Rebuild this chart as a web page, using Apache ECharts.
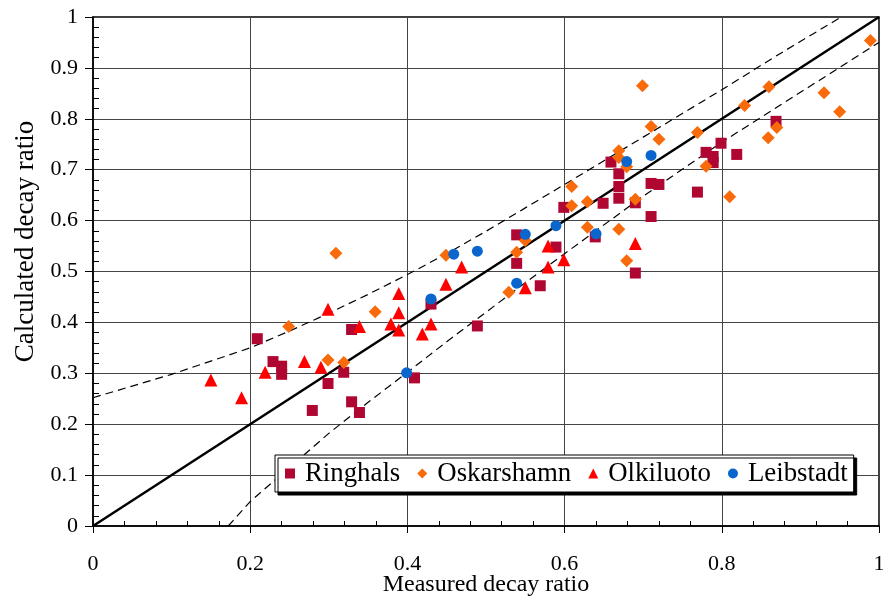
<!DOCTYPE html>
<html><head><meta charset="utf-8">
<script src="https://cdn.jsdelivr.net/npm/echarts@6/dist/echarts.min.js"></script>
<style>html,body{margin:0;padding:0;background:#fff}#c{width:883px;height:597px}</style>
</head><body><div id="c"></div>
<script>
// ---- data ----
const seriesNames = ['Ringhals', 'Oskarshamn', 'Olkiluoto', 'Leibstadt'];
const ringhals = [[0.209,0.368],[0.229,0.323],[0.24,0.314],[0.24,0.298],[0.279,0.227],[0.299,0.28],[0.319,0.302],[0.329,0.244],[0.329,0.386],[0.339,0.223],[0.409,0.291],[0.43,0.436],[0.489,0.393],[0.539,0.572],[0.539,0.516],[0.569,0.472],[0.589,0.548],[0.599,0.626],[0.639,0.568],[0.649,0.634],[0.659,0.715],[0.669,0.692],[0.669,0.667],[0.669,0.644],[0.69,0.635],[0.69,0.497],[0.71,0.673],[0.72,0.671],[0.71,0.608],[0.769,0.656],[0.78,0.734],[0.789,0.726],[0.789,0.714],[0.799,0.752],[0.819,0.73],[0.869,0.795]];
const oskarshamn = [[0.249,0.392],[0.299,0.326],[0.309,0.536],[0.319,0.321],[0.359,0.421],[0.449,0.532],[0.529,0.459],[0.539,0.538],[0.55,0.561],[0.609,0.667],[0.609,0.629],[0.629,0.637],[0.629,0.587],[0.669,0.737],[0.669,0.724],[0.679,0.706],[0.669,0.583],[0.679,0.521],[0.69,0.642],[0.699,0.865],[0.71,0.785],[0.72,0.76],[0.769,0.773],[0.78,0.707],[0.81,0.647],[0.829,0.826],[0.86,0.863],[0.859,0.763],[0.87,0.783],[0.93,0.851],[0.95,0.814],[0.989,0.954]];
const olkiluoto = [[0.15,0.287],[0.189,0.252],[0.219,0.302],[0.269,0.323],[0.29,0.312],[0.299,0.426],[0.339,0.392],[0.379,0.397],[0.389,0.385],[0.389,0.419],[0.389,0.457],[0.419,0.377],[0.43,0.397],[0.449,0.475],[0.469,0.509],[0.55,0.468],[0.579,0.509],[0.579,0.55],[0.599,0.523],[0.69,0.555]];
const leibstadt = [[0.399,0.301],[0.43,0.446],[0.459,0.534],[0.489,0.54],[0.539,0.477],[0.55,0.573],[0.589,0.59],[0.64,0.574],[0.679,0.716],[0.71,0.728]];
const identityLine = [[0,0],[1,1]];
const upperBand = [[0,0.252],[0.1,0.298],[0.2,0.35],[0.25,0.383],[0.3,0.418],[0.35,0.455],[0.4,0.494],[0.45,0.535],[0.5,0.579],[0.55,0.625],[0.6,0.671],[0.7,0.764],[0.8,0.857],[0.874,0.928],[0.952,1.0]];
const lowerBand = [[0.172,0],[0.2,0.048],[0.25,0.115],[0.3,0.182],[0.35,0.243],[0.4,0.302],[0.45,0.362],[0.5,0.42],[0.55,0.478],[0.6,0.535],[0.7,0.648],[0.8,0.754],[0.9,0.852],[1.0,0.95]];
const xTickLabels = ['0','0.2','0.4','0.6','0.8','1'];
const yTickLabels = ['0','0.1','0.2','0.3','0.4','0.5','0.6','0.7','0.8','0.9','1'];
const xTitle = 'Measured decay ratio';
const yTitle = 'Calculated decay ratio';

// ---- chart ----
const F = 'Liberation Serif';
const colors = ['#AF0732', '#F96A0A', '#FF0000', '#0A66CC'];
const symbols = ['rect', 'diamond', 'triangle', 'circle'];
const sizes = [11, 13, 13, 11];
const pointData = [ringhals, oskarshamn, olkiluoto, leibstadt];

const chart = echarts.init(document.getElementById('c'), null, {renderer: 'canvas'});
const lineSeries = [
  {type:'line', data: identityLine, showSymbol:false, symbol:'none', silent:true, z:1,
   lineStyle:{color:'#000', width:2.5}},
  {type:'line', data: upperBand, showSymbol:false, symbol:'none', silent:true, z:1,
   lineStyle:{color:'#000', width:1.2, type:[8,5]}},
  {type:'line', data: lowerBand, showSymbol:false, symbol:'none', silent:true, z:1,
   lineStyle:{color:'#000', width:1.2, type:[8,5]}}
];
const scatterSeries = seriesNames.map((n, i) => ({
  type:'scatter', name:n, data: pointData[i], symbol: symbols[i], symbolSize: sizes[i], z:3,
  itemStyle:{color: colors[i], opacity:1}
}));

chart.setOption({
  animation:false,
  backgroundColor:'#fff',
  grid:{left:93, right:4, top:17, bottom:71, show:true, borderColor:'#000', borderWidth:1.5, outerBoundsMode:'none', containLabel:false},
  xAxis:[
    {type:'value', min:0, max:1, interval:0.2, position:'bottom',
     axisLine:{show:true, onZero:false, lineStyle:{color:'#000', width:1.5}},
     axisTick:{show:true, length:7, lineStyle:{color:'#000', width:1}},
     minorTick:{show:false},
     splitLine:{show:true, lineStyle:{color:'#444', width:1}},
     axisLabel:{margin:27, fontFamily:F, fontSize:22, color:'#000',
       formatter:(v)=> xTickLabels[Math.round(v/0.2)]},
     name:xTitle, nameLocation:'middle', nameGap:47, nameMoveOverlap:false,
     nameTextStyle:{fontFamily:F, fontSize:24, color:'#000'}},
    {type:'value', min:0, max:1, interval:0.2, position:'bottom', gridIndex:0,
     axisLine:{show:false, onZero:false}, axisTick:{show:false, inside:true},
     minorTick:{show:true, splitNumber:5, length:5, lineStyle:{color:'#000', width:1}},
     splitLine:{show:false}, axisLabel:{show:false}}
  ],
  yAxis:[
    {type:'value', min:0, max:1, interval:0.1, position:'left',
     axisLine:{show:true, onZero:false, lineStyle:{color:'#000', width:1.5}},
     axisTick:{show:true, length:8, lineStyle:{color:'#000', width:1}},
     minorTick:{show:false},
     splitLine:{show:true, lineStyle:{color:'#444', width:1}},
     axisLabel:{margin:15, fontFamily:F, fontSize:22, color:'#000',
       formatter:(v)=> yTickLabels[Math.round(v/0.1)]},
     name:yTitle, nameLocation:'middle', nameGap:54, nameMoveOverlap:false,
     nameTextStyle:{fontFamily:F, fontSize:27, color:'#000', padding:[0,0,0,60]}},
    {type:'value', min:0, max:1, interval:0.1, position:'left', gridIndex:0,
     axisLine:{show:false, onZero:false}, axisTick:{show:false, inside:true},
     minorTick:{show:true, splitNumber:5, length:6, lineStyle:{color:'#000', width:1}},
     splitLine:{show:false}, axisLabel:{show:false}}
  ],
  legend:{left:275, top:455, orient:'horizontal', padding:[5,6,5,10], itemGap:17,
    itemWidth:10, itemHeight:10, backgroundColor:'#fff', borderColor:'#000', borderWidth:1,
    shadowColor:'#000', shadowOffsetX:3, shadowOffsetY:3, shadowBlur:0,
    textStyle:{fontFamily:F, fontSize:26.8, color:'#000', padding:[0,0,0,5]},
    data: seriesNames.map((n,i)=>({name:n, icon:symbols[i]}))},
  series: lineSeries.concat(scatterSeries)
});
</script>
</body></html>
